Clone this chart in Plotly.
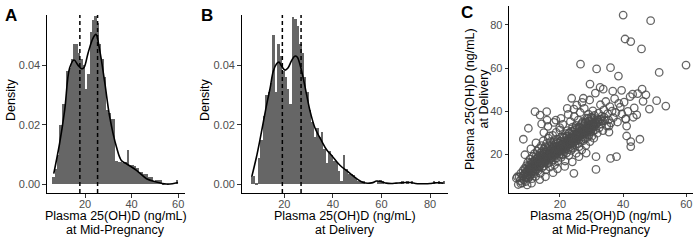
import plotly.graph_objects as go

# ---------------- data ----------------
# Panel A: histogram of mid-pregnancy 25(OH)D, bins [k, k+1)
mid_bin_left = list(range(6, 60))
mid_density = [0.0025, 0.005, 0.010, 0.020, 0.027, 0.027, 0.038, 0.039, 0.042, 0.047,
               0.047, 0.044, 0.042, 0.040, 0.032, 0.037, 0.051, 0.055, 0.0565, 0.054,
               0.047, 0.042, 0.036, 0.025, 0.024, 0.022, 0.022, 0.008, 0.0075, 0.0075,
               0.007, 0.0075, 0.0114, 0.0064, 0.0064, 0.006, 0.0055, 0.004, 0.004, 0.0034,
               0.0034, 0.0025, 0.0024, 0.001, 0.0013, 0.0013, 0.0013, 0.0005, 0.0, 0.0,
               0.0, 0.0, 0.0, 0.0013]
mid_kde_x = [6.6, 9.1, 11.3, 13.4, 15.3, 17.0, 18.6, 19.6, 21.3, 23.4, 24.7, 26.3, 28.5,
             30.6, 33.5, 35.6, 37.8, 42.1, 46.4, 50.6, 54.9, 57.5, 59.9]
mid_kde_y = [0.0036, 0.0137, 0.025, 0.039, 0.0417, 0.040, 0.0388, 0.0392, 0.044, 0.049,
             0.0503, 0.045, 0.034, 0.0226, 0.0125, 0.008, 0.0069, 0.0047, 0.0019, 0.0008,
             0.0001, 0.0002, 0.0006]
mid_lines = [17.8, 25.4]

# Panel B: histogram of delivery 25(OH)D, bins [k, k+1)
del_bin_left = list(range(6, 86))
del_density = [0.0025, 0.0028, 0.0005, 0.009, 0.015, 0.023, 0.030, 0.031, 0.034, 0.050,
               0.031, 0.047, 0.043, 0.038, 0.036, 0.032, 0.027, 0.056, 0.0555, 0.053,
               0.047, 0.044, 0.036, 0.031, 0.025, 0.021, 0.016, 0.019, 0.016, 0.0175,
               0.012, 0.007, 0.0113, 0.010, 0.008, 0.0075, 0.0045, 0.001, 0.0097, 0.005,
               0.0035, 0.0035, 0.003, 0.002, 0.001, 0.001, 0.001, 0.0, 0.0, 0.0,
               0.0, 0.0, 0.001, 0.0015, 0.001, 0.0, 0.0, 0.0, 0.0, 0.0,
               0.0, 0.0, 0.001, 0.0, 0.001, 0.0, 0.001, 0.0, 0.0, 0.0,
               0.0, 0.0, 0.0, 0.0, 0.0, 0.001, 0.0, 0.001, 0.0, 0.001]
del_kde_x = [6.6, 8.5, 10.0, 11.4, 12.8, 14.1, 15.5, 16.9, 17.8, 19.0, 20.3, 21.5, 23.0,
             24.3, 25.3, 26.5, 27.8, 29.2, 30.6, 32.6, 35.4, 37.5, 39.5, 42.9, 46.3, 49.8,
             52.5, 56.0, 58.0, 60.0, 62.0, 64.0, 66.0, 68.0, 70.0, 72.0, 74.0, 76.0, 78.0,
             80.0, 82.0, 84.0, 85.5]
del_kde_y = [0.0025, 0.009, 0.015, 0.021, 0.027, 0.032, 0.038, 0.0405, 0.041, 0.0395,
             0.0383, 0.039, 0.0415, 0.043, 0.0427, 0.040, 0.0356, 0.030, 0.0246, 0.019,
             0.0145, 0.0115, 0.0097, 0.0064, 0.0042, 0.0019, 0.0006, 0.0005, 0.0011, 0.0009,
             0.0004, 0.0003, 0.0004, 0.0005, 0.0006, 0.0006, 0.0003, 0.0002, 0.0002, 0.0003,
             0.0005, 0.0005, 0.0004]
del_lines = [19.2, 26.9]

# Panel C: paired values (mid-pregnancy, delivery)
pairs = [
    (6.2, 8.9), (6.8, 6.0), (7.1, 9.5), (7.4, 7.8), (7.6, 11.2), (7.9, 9.0), (8.1, 6.8), (8.3, 12.4),
    (8.4, 10.1), (8.6, 8.2), (8.8, 13.5), (8.9, 11.0), (9.1, 9.3), (9.2, 7.4), (9.4, 14.8), (9.5, 12.0),
    (9.7, 10.4), (9.8, 16.2), (9.9, 8.8), (10.0, 13.1),
    (10.2, 11.6), (10.3, 15.0), (10.4, 9.7), (10.5, 17.8), (10.6, 12.9), (10.7, 14.1), (10.8, 10.6),
    (10.9, 16.4), (11.0, 13.5), (11.1, 8.7), (11.2, 15.6), (11.3, 12.2), (11.4, 18.9), (11.5, 14.4),
    (11.6, 11.0), (11.7, 16.9), (11.8, 13.3), (11.9, 20.3), (12.0, 15.2), (12.1, 12.0), (12.2, 17.6),
    (12.3, 9.8), (12.4, 14.7), (12.5, 19.4), (12.6, 16.1), (12.7, 13.0), (12.8, 21.5), (12.9, 17.9),
    (13.0, 15.3),
    (13.1, 12.4), (13.2, 19.0), (13.3, 16.7), (13.4, 22.8), (13.5, 14.2), (13.6, 18.1), (13.7, 20.6),
    (13.8, 11.2), (13.9, 16.0), (14.0, 17.4), (14.1, 24.0), (14.2, 19.8), (14.3, 13.8), (14.4, 21.3),
    (14.5, 15.9), (14.6, 18.7), (14.7, 26.2), (14.8, 17.0), (14.9, 22.4), (15.0, 14.6), (15.1, 20.1),
    (15.2, 16.8), (15.3, 23.6), (15.4, 18.9), (15.5, 12.8), (15.6, 21.0), (15.7, 17.5), (15.8, 25.1),
    (15.9, 19.6), (16.0, 15.7), (16.1, 22.7), (16.2, 18.2), (16.3, 27.5), (16.4, 20.4), (16.5, 16.3),
    (16.6, 23.9), (16.7, 19.3), (16.8, 14.1), (16.9, 21.8), (17.0, 25.9),
    (17.1, 18.0), (17.2, 22.3), (17.3, 20.2), (17.4, 16.6), (17.5, 24.4), (17.6, 19.1), (17.7, 28.8),
    (17.8, 21.5), (17.9, 17.4), (18.0, 23.2), (18.1, 20.0), (18.2, 26.4), (18.3, 15.2), (18.4, 22.0),
    (18.5, 19.4), (18.6, 24.9), (18.7, 21.1), (18.8, 30.2), (18.9, 18.3), (19.0, 23.7), (19.1, 20.8),
    (19.2, 27.0), (19.3, 22.5), (19.4, 17.0), (19.5, 25.3), (19.6, 21.9), (19.7, 19.6), (19.8, 24.0),
    (19.9, 32.4), (20.0, 22.8), (20.1, 20.3), (20.2, 26.1), (20.3, 23.5), (20.4, 18.6), (20.5, 28.2),
    (20.6, 21.4), (20.7, 24.6), (20.8, 22.1), (20.9, 33.9), (21.0, 19.9), (21.1, 25.7), (21.2, 23.0),
    (21.3, 27.8), (21.4, 21.2), (21.5, 24.3), (21.6, 16.9), (21.7, 29.6), (21.8, 22.6), (21.9, 26.5),
    (22.0, 24.8), (22.1, 20.7), (22.2, 28.4), (22.3, 23.9), (22.4, 31.0), (22.5, 25.6), (22.6, 22.2),
    (22.7, 27.2), (22.8, 19.5), (22.9, 24.7), (23.0, 29.9), (23.1, 26.3), (23.2, 23.4), (23.3, 35.2),
    (23.4, 27.6), (23.5, 21.8), (23.6, 25.1), (23.7, 30.8), (23.8, 28.0), (23.9, 24.2), (24.0, 32.6),
    (24.1, 26.9), (24.2, 22.9), (24.3, 29.1), (24.4, 25.4), (24.5, 37.5), (24.6, 27.7), (24.7, 31.3),
    (24.8, 24.5), (24.9, 28.9), (25.0, 26.2), (25.1, 33.4), (25.2, 20.5), (25.3, 29.7), (25.4, 27.1),
    (25.5, 31.9), (25.6, 25.0), (25.7, 28.3), (25.8, 35.9), (25.9, 30.4), (26.0, 26.7), (26.1, 23.6),
    (26.2, 32.2), (26.3, 28.6), (26.4, 39.4), (26.5, 30.0), (26.6, 26.0), (26.7, 33.8), (26.8, 29.4),
    (26.9, 22.0), (27.0, 31.5), (27.1, 28.1), (27.2, 35.1), (27.3, 30.7), (27.4, 26.4), (27.5, 33.0),
    (27.6, 29.2), (27.7, 41.3), (27.8, 31.1), (27.9, 27.3), (28.0, 34.5),
    (28.1, 30.1), (28.2, 24.1), (28.3, 32.9), (28.4, 29.5), (28.5, 36.8), (28.6, 31.8), (28.7, 27.9),
    (28.8, 34.1), (28.9, 30.6), (29.0, 38.6), (29.1, 32.4), (29.2, 28.8), (29.3, 35.5), (29.4, 31.2),
    (29.5, 25.9), (29.6, 33.6), (29.7, 30.3), (29.8, 37.3), (29.9, 34.8), (30.0, 31.6), (30.1, 28.4),
    (30.2, 36.1), (30.3, 33.1), (30.4, 40.2), (30.5, 30.9), (30.6, 34.4), (30.7, 27.5), (30.8, 32.6),
    (30.9, 38.0), (31.0, 35.3), (31.2, 31.4), (31.4, 33.9), (31.6, 36.6), (31.8, 29.8), (32.0, 34.9),
    (32.2, 39.1), (32.4, 32.3), (32.6, 36.2), (32.8, 43.0), (33.0, 34.0),
    (33.3, 37.7), (33.6, 31.0), (33.9, 40.6), (34.2, 35.7), (34.5, 44.5), (34.8, 33.2), (35.1, 38.9),
    (35.4, 36.0), (35.8, 42.1), (36.1, 34.6), (36.5, 40.0), (36.9, 37.0), (37.3, 45.8), (37.7, 39.4),
    (38.2, 35.0), (38.6, 43.6), (39.1, 41.9), (39.6, 38.7), (40.3, 44.2), (40.8, 36.5), (41.5, 39.9),
    (42.2, 46.8), (43.5, 41.5), (44.6, 48.2), (46.3, 44.6), (47.2, 47.6),
    (10.8, 22.5), (12.4, 25.3), (14.9, 30.1), (16.2, 33.0), (19.2, 13.3), (21.5, 14.4), (23.9, 16.5),
    (26.0, 18.9), (28.3, 20.6), (17.8, 11.5), (13.6, 8.3), (11.0, 6.6), (9.6, 5.8), (22.6, 38.5),
    (20.3, 36.7), (18.1, 34.8), (27.0, 44.1), (29.4, 45.2), (25.3, 42.8), (31.2, 48.4), (15.4, 9.6),
    (40.0, 84.6), (48.7, 82.0), (40.6, 73.5), (42.4, 72.3), (45.8, 68.9), (59.9, 61.4), (51.4, 58.0),
    (26.5, 61.8), (31.6, 59.6), (36.0, 60.2), (38.5, 56.3), (29.5, 52.6), (32.7, 51.1), (33.7, 50.2),
    (36.7, 49.3), (39.5, 49.7), (46.0, 50.2), (43.0, 47.9), (50.6, 44.9), (53.5, 42.4), (48.3, 41.0),
    (43.2, 37.2), (44.3, 38.3), (40.8, 36.3), (35.5, 33.1), (41.1, 33.1), (35.5, 30.3), (41.1, 28.5),
    (45.3, 27.0), (42.4, 25.9), (42.4, 23.6), (37.9, 18.9), (36.0, 18.1), (31.4, 18.9), (31.4, 13.0),
    (24.4, 11.2), (23.7, 46.0), (27.4, 46.0), (24.4, 41.0), (22.3, 41.3), (13.7, 38.2), (12.1, 39.8),
    (15.8, 39.8), (14.2, 34.1), (15.9, 35.9), (10.0, 32.1), (8.4, 27.0), (8.9, 19.8), (6.5, 9.6),
    (7.6, 6.5), (20.0, 31.3), (18.7, 35.9), (16.6, 28.5),
    (8.2, 9.8), (8.7, 10.9), (9.3, 11.8), (9.6, 10.2), (10.1, 12.5), (10.4, 13.6), (10.9, 12.1),
    (11.2, 14.0), (11.6, 13.9), (11.9, 14.8), (12.3, 15.4), (12.6, 14.2), (13.0, 16.1), (13.3, 15.0),
    (13.7, 17.2), (14.0, 16.3), (14.3, 18.0), (14.6, 17.2), (15.0, 18.4), (15.3, 17.6), (15.7, 19.3),
    (16.0, 18.5), (16.3, 20.1), (16.6, 19.0), (17.0, 20.6), (17.3, 19.8), (17.6, 21.7), (18.0, 20.9),
    (18.3, 22.4), (18.6, 21.5), (19.0, 22.3), (19.3, 21.2), (19.6, 23.1), (20.0, 22.0), (20.3, 24.1),
    (20.6, 23.0), (21.0, 24.6), (21.3, 23.7), (21.7, 25.3), (22.0, 24.0), (22.3, 26.0), (22.7, 25.1),
    (23.0, 26.8), (23.3, 25.9), (23.7, 27.4), (24.0, 26.5), (24.3, 28.1), (24.7, 27.0), (25.0, 28.8),
    (25.3, 27.9), (25.7, 29.6), (26.0, 28.7), (26.3, 30.3), (26.7, 29.4), (27.0, 30.9), (27.3, 30.0),
    (27.7, 31.7), (28.0, 30.8), (28.3, 32.3), (28.7, 31.4), (29.0, 33.0), (29.3, 32.0), (29.7, 33.5),
    (30.0, 32.8), (30.4, 34.1), (30.8, 33.4), (31.2, 35.0), (31.6, 34.2), (32.0, 36.0), (32.5, 35.1),
    (33.0, 36.4), (33.5, 35.5), (34.0, 37.2),
    (9.1, 13.2), (10.2, 14.3), (11.1, 15.9), (12.1, 16.7), (12.9, 18.5), (14.1, 19.3), (14.9, 20.9),
    (16.1, 21.4), (16.9, 23.2), (18.1, 23.8), (18.9, 25.6), (20.1, 26.0), (20.9, 27.7), (22.1, 28.2),
    (22.9, 30.0), (24.1, 30.5), (24.9, 32.1), (26.1, 32.7), (26.9, 34.4), (28.1, 34.9), (28.9, 36.6),
    (30.1, 37.0),
    (9.4, 9.5), (10.6, 11.0), (11.4, 11.9), (12.6, 13.4), (13.4, 14.2), (14.6, 15.8), (15.4, 16.5),
    (16.6, 18.1), (17.4, 18.6), (18.6, 20.3), (19.4, 20.8), (20.6, 22.4), (21.4, 23.0), (22.6, 24.6),
    (23.4, 25.2), (24.6, 26.8), (25.4, 27.4), (26.6, 29.0), (27.4, 29.6), (28.6, 31.2), (29.4, 31.8),
    (30.6, 33.4),
]
mid_vals = [p[0] for p in pairs]
del_vals = [p[1] for p in pairs]

# ---------------- figure ----------------
W, H = 700, 243
FONT = "Liberation Sans, Arial, Helvetica, sans-serif"
BAR = "#666666"


def fx(px):
    return px / W


def fy(py):
    return 1 - py / H


fig = go.Figure()

fig.add_trace(go.Bar(x=[b + 0.5 for b in mid_bin_left], y=mid_density, width=1,
                     marker=dict(color=BAR, line=dict(width=0)), xaxis="x", yaxis="y"))
fig.add_trace(go.Scatter(x=mid_kde_x, y=mid_kde_y, mode="lines",
                         line=dict(color="black", width=1.6, shape="spline", smoothing=1),
                         xaxis="x", yaxis="y"))
fig.add_trace(go.Bar(x=[b + 0.5 for b in del_bin_left], y=del_density, width=1,
                     marker=dict(color=BAR, line=dict(width=0)), xaxis="x2", yaxis="y2"))
fig.add_trace(go.Scatter(x=del_kde_x, y=del_kde_y, mode="lines",
                         line=dict(color="black", width=1.6, shape="spline", smoothing=1),
                         xaxis="x2", yaxis="y2"))
fig.add_trace(go.Scatter(x=mid_vals, y=del_vals, mode="markers",
                         marker=dict(symbol="circle-open", size=7.5, color="rgba(75,75,75,0.85)",
                                     line=dict(width=1.3)),
                         xaxis="x3", yaxis="y3"))

axis_common = dict(showline=True, linecolor="black", linewidth=1.2, ticks="outside", ticklen=3.5,
                   tickwidth=1, tickcolor="#333333", showgrid=False, zeroline=False,
                   tickfont=dict(family=FONT, size=11, color="#4d4d4d"))
xstand = dict(ticklabelstandoff=-3)

fig.update_layout(
    width=W, height=H, margin=dict(l=0, r=0, t=0, b=0),
    paper_bgcolor="white", plot_bgcolor="white", showlegend=False, bargap=0,
    xaxis=dict(domain=[fx(47), fx(185)], range=[3.7, 62.9], tickvals=[20, 40, 60], anchor="y",
               **xstand, **axis_common),
    yaxis=dict(domain=[fy(193), fy(15)], range=[-0.0029, 0.0568], tickvals=[0, 0.02, 0.04],
               ticktext=["0.00", "0.02", "0.04"], anchor="x", **axis_common),
    xaxis2=dict(domain=[fx(241.7), fx(448.3)], range=[2.47, 87.5], tickvals=[20, 40, 60, 80], anchor="y2",
                **xstand, **axis_common),
    yaxis2=dict(domain=[fy(193), fy(15)], range=[-0.0029, 0.0568], tickvals=[0, 0.02, 0.04],
                ticktext=["0.00", "0.02", "0.04"], anchor="x2", **axis_common),
    xaxis3=dict(domain=[fx(509.3), fx(693.3)], range=[3.96, 62.2], tickvals=[20, 40, 60], anchor="y3",
                **xstand, **axis_common),
    yaxis3=dict(domain=[fy(192.7), fy(6)], range=[2.2, 88.8], tickvals=[20, 40, 60, 80], anchor="x3", **axis_common),
)

shapes = []
for v in mid_lines:
    shapes.append(dict(type="line", xref="x", yref="y domain", x0=v, x1=v, y0=0, y1=1,
                       line=dict(color="black", width=1.5, dash="4px,3px")))
for v in del_lines:
    shapes.append(dict(type="line", xref="x2", yref="y2 domain", x0=v, x1=v, y0=0, y1=1,
                       line=dict(color="black", width=1.5, dash="4px,3px")))
fig.update_layout(shapes=shapes)

TF = dict(family=FONT, size=12.5, color="black")
ann = []


def text(x, y, s, font, angle=0):
    ann.append(dict(x=fx(x), y=fy(y), xref="paper", yref="paper", text=s, showarrow=False,
                    xanchor="center", yanchor="middle", font=font, textangle=angle))


LF = dict(family=FONT, size=17, color="black")
text(11, 15, "<b>A</b>", LF)
text(206.5, 15, "<b>B</b>", LF)
text(467.5, 12.5, "<b>C</b>", LF)

text(116, 216, "Plasma 25(OH)D (ng/mL)", TF)
text(116, 230, "at Mid-Pregnancy", TF)
text(345, 216, "Plasma 25(OH)D (ng/mL)", TF)
text(345, 230, "at Delivery", TF)
text(601, 216, "Plasma 25(OH)D (ng/mL)", TF)
text(601, 230, "at Mid-Pregnancy", TF)

text(11, 100, "Density", TF, -90)
text(205, 100, "Density", TF, -90)
text(470, 99, "Plasma 25(OH)D (ng/mL)", TF, -90)
text(483.5, 99, "at Delivery", TF, -90)

fig.update_layout(annotations=ann)
fig.write_html("out.html", config={"displayModeBar": False},
               post_script="document.body.style.margin='0';document.body.style.padding='0';")
